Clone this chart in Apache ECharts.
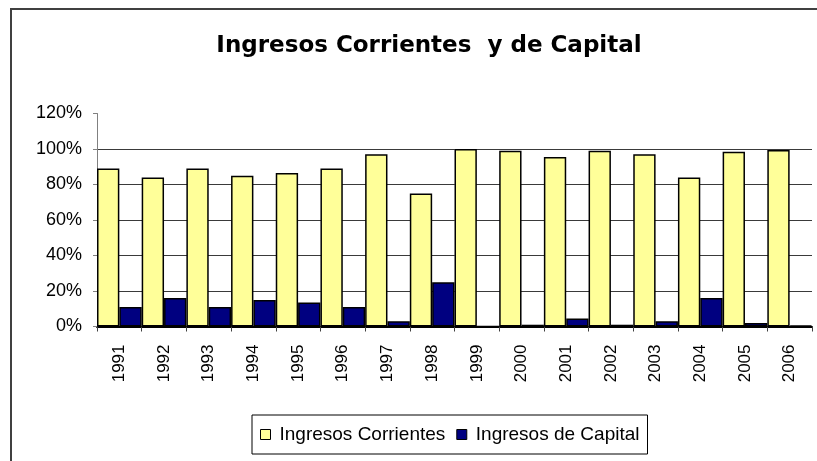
<!DOCTYPE html>
<html>
<head>
<meta charset="utf-8">
<script src="https://cdn.jsdelivr.net/npm/echarts@6/dist/echarts.min.js"></script>
<style>
  html, body { margin: 0; padding: 0; background: #fff; }
  #chart { width: 817px; height: 461px; }
</style>
</head>
<body>
<div id="chart"></div>
<script>
const years = ["1991", "1992", "1993", "1994", "1995", "1996", "1997", "1998",
  "1999", "2000", "2001", "2002", "2003", "2004", "2005", "2006"];
const corrientes = [89, 84, 89, 85, 86.5, 89, 97, 75, 100, 99, 95.5, 99, 97, 84, 98.5, 99.5];
const capital = [11, 16, 11, 15, 13.5, 11, 3, 25, 0, 1, 4.5, 1, 3, 16, 2, 0.5];
const yTicks = [0, 20, 40, 60, 80, 100, 120];

const font = "Liberation Sans, Arial, sans-serif";

const chart = echarts.init(document.getElementById("chart"), null, { renderer: "canvas" });

chart.setOption({
  animation: false,
  title: {
    text: "Ingresos Corrientes  y de Capital",
    left: 424,
    top: 30,
    textAlign: "center",
    textStyle: {
      fontFamily: "DejaVu Sans, sans-serif",
      fontWeight: "bold",
      fontSize: 23,
      color: "#000",
    },
  },
  graphic: [
    {
      type: "rect",
      shape: { x: 11, y: 9, width: 840, height: 480 },
      style: { fill: "none", stroke: "#404040", lineWidth: 2 },
      silent: true,
    },
  ],
  grid: {
    left: 97,
    right: 5,
    top: 113.5,
    bottom: 134.5,
    containLabel: false,
  },
  legend: {
    data: ["Ingresos Corrientes", "Ingresos de Capital"],
    left: 252,
    top: 415,
    orient: "horizontal",
    icon: "rect",
    itemWidth: 10,
    itemHeight: 10,
    itemGap: 11,
    padding: [10, 8, 10, 8],
    borderColor: "#000",
    borderWidth: 1,
    itemStyle: { borderColor: "#000", borderWidth: 1 },
    textStyle: {
      fontFamily: font,
      fontSize: 19,
      color: "#000",
      padding: [0, 0, 0, 4],
    },
  },
  xAxis: {
    type: "category",
    data: years,
    axisLine: { lineStyle: { color: "#000", width: 2 } },
    axisTick: { show: true, alignWithLabel: false, length: 5, lineStyle: { color: "#404040" } },
    axisLabel: {
      rotate: 90,
      margin: 18,
      fontFamily: font,
      fontSize: 17,
      color: "#000",
    },
  },
  yAxis: {
    type: "value",
    min: yTicks[0],
    max: yTicks[yTicks.length - 1],
    interval: 20,
    axisLine: { show: true, lineStyle: { color: "#808080", width: 1 } },
    axisTick: { show: true, length: 4, lineStyle: { color: "#808080" } },
    axisLabel: {
      margin: 15,
      fontFamily: font,
      fontSize: 18,
      color: "#000",
      formatter: "{value}%",
    },
    splitLine: {
      show: true,
      showMaxLine: false,
      lineStyle: { color: "#3a3a3a", width: 1 },
    },
  },
  series: [
    {
      name: "Ingresos Corrientes",
      type: "bar",
      data: corrientes,
      barGap: "0%",
      barCategoryGap: "0%",
      itemStyle: { color: "#FFFF99", borderColor: "#000", borderWidth: 1.5 },
    },
    {
      name: "Ingresos de Capital",
      type: "bar",
      data: capital,
      barGap: "0%",
      barCategoryGap: "0%",
      itemStyle: { color: "#000080", borderColor: "#000", borderWidth: 1.5 },
    },
  ],
});
</script>
</body>
</html>
